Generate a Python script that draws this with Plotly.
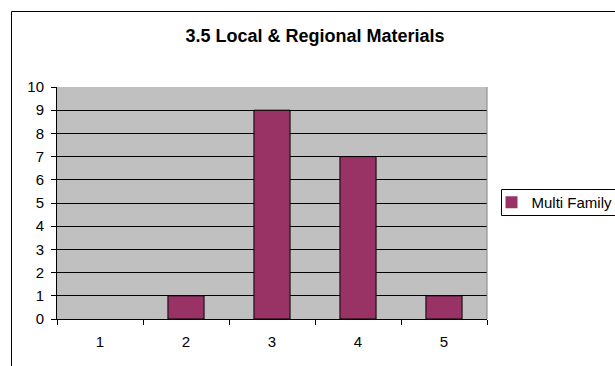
import plotly.graph_objects as go

categories = ["1", "2", "3", "4", "5"]
values = [0, 1, 9, 7, 1]
series_name = "Multi Family"
title_text = "3.5 Local & Regional Materials"

FONT = "Arial, Liberation Sans, sans-serif"

fig = go.Figure()
fig.add_trace(go.Bar(
    x=categories, y=values, name=series_name,
    marker=dict(color="#993366",
                line=dict(color="black", width=[0 if v == 0 else 1 for v in values])),
    width=0.42, showlegend=True,
))

L, R, T, B = 57, 487, 87, 319
W, H = 615, 366
pw, ph = R - L, B - T

def px_x(p):
    return (p - L) / pw

def px_y(p):
    return (B - p) / ph

fig.update_layout(
    width=W, height=H,
    margin=dict(l=L, r=W - R, t=T, b=H - B, autoexpand=False),
    paper_bgcolor="white", plot_bgcolor="#C0C0C0",
    font=dict(family=FONT, size=15, color="black"),
    title=dict(text="<b>" + title_text + "</b>", x=315 / W, xanchor="center",
               y=1 - 36 / H, yanchor="middle", font=dict(size=18, family=FONT, color="black")),
    showlegend=True,
    legend=dict(x=px_x(491.5), y=px_y(202.5), xanchor="left", yanchor="middle",
                bgcolor="rgba(0,0,0,0)", borderwidth=0,
                font=dict(size=15, family=FONT, color="black"),
                itemwidth=30, tracegroupgap=0),
)

fig.update_xaxes(type="category", range=[-0.5, 4.5], tickson="boundaries",
                 ticks="outside", ticklen=5, tickcolor="black", tickwidth=1,
                 ticklabelstandoff=9,
                 showline=True, linecolor="black", linewidth=1, showgrid=False,
                 tickfont=dict(size=15, family=FONT, color="black"), fixedrange=True)
fig.update_yaxes(range=[0, 10], dtick=1, ticks="outside", ticklen=5, tickcolor="black",
                 ticklabelstandoff=4,
                 showline=True, linecolor="black", linewidth=1,
                 showgrid=True, gridcolor="black", gridwidth=1, zeroline=False,
                 tickfont=dict(size=15, family=FONT, color="black"), fixedrange=True)

# outer chart border
fig.add_shape(type="rect", xref="paper", yref="paper",
              x0=px_x(11.5), x1=px_x(W + 5), y0=px_y(H + 5), y1=px_y(11.5),
              line=dict(color="black", width=1), fillcolor="rgba(0,0,0,0)", layer="below")
# plot area right border (gray)
fig.add_shape(type="line", xref="paper", yref="paper", x0=1, x1=1, y0=0, y1=1,
              line=dict(color="#808080", width=1))
# legend box
fig.add_shape(type="rect", xref="paper", yref="paper",
              x0=px_x(501.5), x1=px_x(W + 5), y0=px_y(215.5), y1=px_y(189.5),
              line=dict(color="black", width=1), fillcolor="white", layer="below")

fig.write_html("out.html")
